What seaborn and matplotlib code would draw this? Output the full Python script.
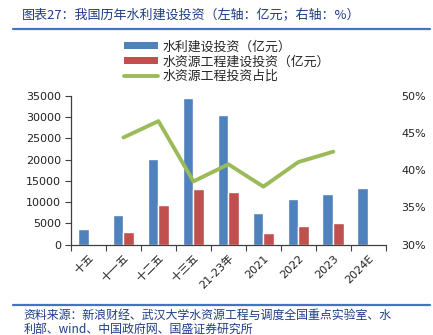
import numpy as np
import pandas as pd
import matplotlib
matplotlib.use("Agg")
import matplotlib.pyplot as plt
import seaborn as sns
from matplotlib.lines import Line2D
from matplotlib.patches import Patch

sns.set_style("white")
plt.rcParams['font.family'] = ['DejaVu Sans', 'Noto Sans CJK SC']
plt.rcParams['axes.unicode_minus'] = False

categories = ["十五", "十一五", "十二五", "十三五", "21-23年", "2021", "2022", "2023", "2024E"]
water_conservancy = [3600, 7000, 20200, 34600, 30400, 7400, 10800, 11900, 13400]
water_resources = [np.nan, 3050, 9400, 13200, 12400, 2750, 4460, 5000, np.nan]
share_pct = [np.nan, 44.4, 46.6, 38.5, 40.8, 37.8, 41.1, 42.5, np.nan]

s1 = "水利建设投资（亿元）"
s2 = "水资源工程建设投资（亿元）"
s3 = "水资源工程投资占比"

blue = "#4F81BD"
red = "#C0504D"
green = "#9BBB59"
navy = "#1F3C88"

df = pd.DataFrame({
    "cat": categories * 2,
    "val": water_conservancy + water_resources,
    "series": [s1] * len(categories) + [s2] * len(categories),
})

fig = plt.figure(figsize=(4.33, 3.35), dpi=100)
ax = fig.add_axes([0.164, 0.2696, 0.727, 0.4444])

sns.barplot(data=df, x="cat", y="val", hue="series", order=categories,
            hue_order=[s1, s2], palette=[blue, red], width=0.62, ax=ax,
            legend=False, saturation=1, errorbar=None)

ax.set_xlim(-0.5, len(categories) - 0.5)
ax.set_ylim(0, 35000)
ax.set_yticks(np.arange(0, 35001, 5000))
ax.set_xlabel("")
ax.set_ylabel("")
for s in ["top", "right"]:
    ax.spines[s].set_visible(False)
for s in ["left", "bottom"]:
    ax.spines[s].set_color("#404040")
    ax.spines[s].set_linewidth(0.9)
ax.tick_params(axis="y", direction="out", length=4, width=0.8, color="#404040",
               labelsize=8, pad=3, labelcolor="#222222", left=True)
ax.set_xticks(np.arange(len(categories)))
ax.set_xticklabels(categories, rotation=45, ha="right", rotation_mode="anchor")
ax.tick_params(axis="x", which="major", length=0, labelsize=8, pad=6,
               labelcolor="#222222", bottom=True)
ax.set_xticks(np.arange(-0.5, len(categories), 1.0), minor=True)
ax.tick_params(axis="x", which="minor", direction="out", length=4, width=0.8,
               color="#404040", bottom=True)

ax2 = ax.twinx()
sns.lineplot(x=np.arange(len(categories)), y=np.array(share_pct) / 100.0,
             color=green, linewidth=2.8, ax=ax2, legend=False)
ax2.set_ylim(0.30, 0.50)
ax2.set_yticks(np.arange(0.30, 0.501, 0.05))
ax2.set_yticklabels([f"{int(round(v * 100))}%" for v in np.arange(0.30, 0.501, 0.05)])
ax2.set_xlim(-0.5, len(categories) - 0.5)
for s in ax2.spines.values():
    s.set_visible(False)
ax2.tick_params(axis="y", length=0, labelsize=8, pad=11, labelcolor="#222222", right=True)
ax2.set_ylabel("")

handles = [Patch(facecolor=blue, edgecolor="none"),
           Patch(facecolor=red, edgecolor="none"),
           Line2D([0], [0], color=green, linewidth=2.8)]
fig.legend(handles, [s1, s2, s3], loc="upper left", bbox_to_anchor=(0.275, 0.895),
           frameon=False, handlelength=2.6, handleheight=0.45,
           handletextpad=0.4, labelspacing=0.15, borderaxespad=0,
           prop={"family": ["Noto Sans CJK SC"], "size": 9.3})

fig.text(0.05, 0.955, "图表27：我国历年水利建设投资（左轴：亿元；右轴：%）",
         fontsize=9.4, color=navy, style="italic", va="center", ha="left",
         family=["Noto Sans CJK SC"])
fig.add_artist(Line2D([0.03, 0.993], [0.913, 0.913], color="#4472C4", linewidth=1.6,
                      transform=fig.transFigure))
fig.add_artist(Line2D([0.03, 0.993], [0.09, 0.09], color="#4472C4", linewidth=1.6,
                      transform=fig.transFigure))
fig.text(0.055, 0.058, "资料来源：新浪财经、武汉大学水资源工程与调度全国重点实验室、水",
         fontsize=8.6, color=navy, style="italic", va="center", ha="left",
         family=["Noto Sans CJK SC", "DejaVu Sans"])
fig.text(0.055, 0.018, "利部、wind、中国政府网、国盛证券研究所",
         fontsize=8.6, color=navy, style="italic", va="center", ha="left",
         family=["Noto Sans CJK SC", "DejaVu Sans"])

fig.savefig("out.png", dpi=100)
